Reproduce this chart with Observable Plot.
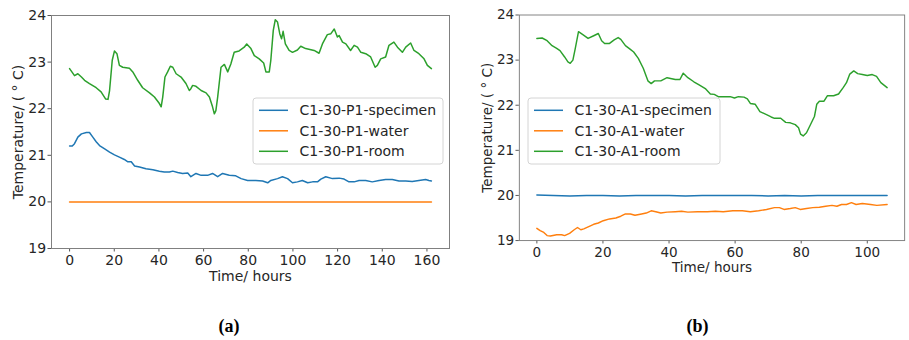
<!DOCTYPE html>
<html><head><meta charset="utf-8">
<script src="https://cdn.jsdelivr.net/npm/d3@7"></script>
<script src="https://cdn.jsdelivr.net/npm/@observablehq/plot@0.6"></script>
<style>
html,body{margin:0;padding:0;background:#fff;}
#wrap{position:relative;width:909px;height:340px;overflow:hidden;font-family:"DejaVu Sans",sans-serif;}
.panel{position:absolute;top:0;}
.tag{position:absolute;top:316.5px;width:60px;margin-left:-30px;text-align:center;line-height:18px;font-family:"Liberation Serif","Times New Roman",serif;font-weight:bold;font-size:18px;color:#000;}
</style></head><body><div id="wrap"></div>
<script>
// ---------- data ----------
const seriesKeys = ["specimen", "water", "room"];
const legendP1 = ["C1-30-P1-specimen", "C1-30-P1-water", "C1-30-P1-room"];
const legendA1 = ["C1-30-A1-specimen", "C1-30-A1-water", "C1-30-A1-room"];
const xTicksP1 = [0, 20, 40, 60, 80, 100, 120, 140, 160];
const xTicksA1 = [0, 20, 40, 60, 80, 100];
const yTicks = [19, 20, 21, 22, 23, 24];
const xLabel = "Time/ hours";
const yLabel = "Temperature/ ( ° C)";
const panelTags = ["(a)", "(b)"];

const timeP1Room = [0,2.2,3.7,5.3,6.7,8.9,11.9,14.1,16.1,17.2,17.9,19.1,20.1,21.2,22.3,23.8,26.8,28.3,30.5,32.7,35.8,38,40.2,41,41.7,42.7,43.9,45.1,46.2,47.7,49.9,52.1,53.6,54.3,55.1,56.6,58.9,61.1,62.6,64,64.8,65.5,66.3,67.8,69.3,70.8,72.2,73.7,75.9,78.2,79.3,81.2,82.7,84.9,86.9,87.9,89.4,90.1,91.2,92.1,93.1,94.1,94.9,95.6,96.6,98.3,99.8,102,103.5,105.7,109.5,111.7,113.2,115.4,117,118.5,119.9,120.7,122.2,123.7,125.8,127.4,128.9,130.4,132.6,134.8,136.8,137.8,139.3,141.5,143,145.2,146.8,149,150.5,152.7,154.2,156.4,158.7,160.2,162];
const tempP1Room = [22.86,22.71,22.75,22.68,22.61,22.54,22.45,22.36,22.21,22.2,22.39,23.04,23.24,23.18,22.93,22.89,22.87,22.79,22.61,22.45,22.34,22.25,22.11,22.04,22.25,22.68,22.79,22.91,22.89,22.75,22.68,22.54,22.39,22.43,22.5,22.48,22.39,22.34,22.25,22.04,21.89,21.96,22.25,22.89,22.95,22.79,22.96,23.21,23.24,23.32,23.39,23.29,23.14,23.07,22.98,22.79,22.79,23.04,23.68,23.91,23.86,23.61,23.5,23.66,23.39,23.25,23.21,23.26,23.34,23.29,23.25,23.19,23.39,23.59,23.61,23.71,23.54,23.57,23.43,23.39,23.25,23.36,23.32,23.21,23.18,23.11,22.89,22.93,23.07,23.11,23.36,23.43,23.32,23.21,23.32,23.41,23.25,23.18,23.07,22.93,22.86];

const timeP1Specimen = [0,1.2,2.2,3.7,5.3,7.5,8.9,10.4,11.9,13.4,15.7,17.9,20.1,22.3,24.5,26.1,27.6,29.1,31.3,34.2,37.3,40.2,42.4,44.7,46.2,48.4,50.6,52.9,54.3,56.6,58.9,61.8,64,66.3,68.5,71.5,74.4,76.8,79.7,83.4,86.4,88.7,90.1,93.1,95.3,97.6,99.8,102,104.2,106.6,108.8,111,112.5,114.7,117.7,120.7,122.9,125.1,127.4,129.6,132.6,135.5,138.6,141.5,144.5,147.5,150.5,153.4,156.4,159.4,160.9,162];
const tempP1Specimen = [21.2,21.2,21.25,21.39,21.46,21.49,21.49,21.39,21.29,21.21,21.14,21.07,21.01,20.96,20.91,20.86,20.86,20.77,20.75,20.71,20.69,20.66,20.64,20.64,20.66,20.63,20.61,20.62,20.54,20.61,20.57,20.57,20.61,20.54,20.61,20.57,20.56,20.5,20.46,20.46,20.45,20.41,20.46,20.5,20.54,20.5,20.41,20.43,20.46,20.41,20.43,20.43,20.49,20.54,20.5,20.51,20.49,20.43,20.43,20.46,20.46,20.43,20.46,20.48,20.48,20.45,20.45,20.44,20.46,20.48,20.46,20.45];

const timeP1Water = [0, 40, 80, 120, 162];
const tempP1Water = [20.0, 20.0, 20.0, 20.0, 20.0];

const timeA1Room = [0,1.6,3.1,4.6,6,7,8.4,9.4,10.1,10.9,11.6,12.6,13.8,15.5,17.2,18.6,19.6,20.5,22,23.4,24.6,25.4,26.8,28.1,29.3,30.7,32.2,33.6,34.6,35.6,37.5,39.4,41.9,43.3,44.3,45.7,47.5,49.1,51.1,52.5,53.7,54.9,56.9,58.5,59.8,61,62.7,63.7,64.6,66.1,67.5,69.5,70.9,71.9,73.8,75.3,76.7,78.2,79.2,79.8,80.6,81.6,82.6,84,84.7,85.5,86.9,87.9,89.8,91.3,92.7,93.7,94.7,95.9,97.1,98.5,100,101.5,102.8,104.1,106];
const tempA1Room = [23.48,23.49,23.43,23.32,23.26,23.21,23.07,22.96,22.93,23,23.25,23.63,23.57,23.48,23.54,23.59,23.43,23.37,23.37,23.45,23.5,23.46,23.32,23.25,23.18,23.04,22.82,22.54,22.48,22.54,22.54,22.61,22.57,22.57,22.71,22.61,22.52,22.45,22.36,22.25,22.24,22.19,22.19,22.19,22.16,22.19,22.18,22.14,22.04,22.02,21.86,21.79,21.74,21.71,21.71,21.62,21.61,21.57,21.5,21.36,21.32,21.39,21.54,21.75,22.02,22.09,22.09,22.21,22.21,22.25,22.39,22.5,22.69,22.76,22.7,22.68,22.66,22.68,22.64,22.5,22.39];

const timeA1Water = [0,1,2.1,3.1,4.1,6,7.5,8.4,9.9,11.3,12.3,13.3,14.2,15.7,17.2,18.6,20.1,22,23.9,25.4,26.8,28.3,29.7,31.7,33.1,34.6,36,37.5,39.4,41.9,43.8,45.7,48.6,51.6,54,56.4,59.3,62.2,64.6,67.1,69.5,71.9,73.4,74.8,76.7,78.2,79.7,81.6,83.5,85.5,87.4,89.3,90.8,92.2,93.7,95.2,96.6,98.5,101,102.9,106];
const tempA1Water = [19.27,19.22,19.18,19.11,19.1,19.13,19.13,19.11,19.16,19.24,19.29,19.24,19.26,19.31,19.36,19.39,19.44,19.48,19.5,19.54,19.59,19.59,19.56,19.59,19.61,19.66,19.64,19.61,19.63,19.64,19.65,19.63,19.64,19.64,19.65,19.64,19.66,19.66,19.64,19.66,19.69,19.73,19.73,19.69,19.71,19.73,19.69,19.71,19.73,19.74,19.76,19.78,19.76,19.8,19.8,19.84,19.8,19.82,19.8,19.78,19.8];

const timeA1Specimen = [0,5,10,15,20,25,30,35,40,45,50,55,60,65,70,75,80,85,90,95,100,106];
const tempA1Specimen = [20.01,20.0,19.99,20.0,20.0,19.99,20.0,20.0,20.0,19.99,20.0,20.0,20.0,20.0,19.99,20.0,19.99,20.0,20.0,20.0,20.0,20.0];

// ---------- styles ----------
const seriesColors = ["#1f77b4", "#ff7f0e", "#2ca02c"];

function toRows(pairs) {
  const rows = [];
  pairs.forEach(([key, ts, vs]) => ts.forEach((t, i) => rows.push({series: key, time: t, temp: vs[i]})));
  return rows;
}
const rowsP1 = toRows([["specimen", timeP1Specimen, tempP1Specimen], ["water", timeP1Water, tempP1Water], ["room", timeP1Room, tempP1Room]]);
const rowsA1 = toRows([["specimen", timeA1Specimen, tempA1Specimen], ["water", timeA1Water, tempA1Water], ["room", timeA1Room, tempA1Room]]);

function panel(rows, xDomain, xTicks, width, marginLeft) {
  return Plot.plot({
    width, height: 290, marginLeft, marginRight: 5, marginTop: 15, marginBottom: 42,
    style: {fontFamily: "DejaVu Sans, sans-serif", fontSize: "14px", color: "#262626", background: "transparent", overflow: "visible"},
    x: {domain: xDomain, label: null},
    y: {domain: [19, 24], label: null},
    color: {domain: seriesKeys, range: seriesColors},
    marks: [
      Plot.axisX({ticks: xTicks, tickFormat: d => String(d), tickSize: 3.5, tickPadding: 3.5, fontSize: 14, label: null, stroke: "#555", fill: "#262626"}),
      Plot.axisY({ticks: yTicks, tickFormat: d => String(d), tickSize: 3.5, tickPadding: 1.8, fontSize: 14, label: null, stroke: "#555", fill: "#262626"}),
      Plot.line(rows, {x: "time", y: "temp", z: "series", stroke: "series", strokeWidth: 1.5}),
      Plot.frame({stroke: "#808080", strokeWidth: 1}),
      Plot.text([xLabel], {frameAnchor: "bottom", dy: 28, lineAnchor: "middle", textAnchor: "middle", text: d => d, fontSize: 14, fill: "#262626"}),
      Plot.text([yLabel], {frameAnchor: "left", dx: -32.5, rotate: -90, lineAnchor: "middle", textAnchor: "middle", text: d => d, fontSize: 14, fill: "#262626"})
    ]
  });
}

const wrap = d3.select("#wrap");
const p1 = panel(rowsP1, [-8.1, 170.1], xTicksP1, 454, 51);
const a1 = panel(rowsA1, [-5.3, 111.3], xTicksA1, 470, 67);
const d1 = wrap.append("div").attr("class", "panel").style("left", "0px"); d1.node().appendChild(p1);
const d2 = wrap.append("div").attr("class", "panel").style("left", "454px"); d2.node().appendChild(a1);

function legend(x, y, w, labels) {
  const h = 66;
  const svg = wrap.append("svg").attr("width", w + 2).attr("height", h + 2)
    .style("position", "absolute").style("left", (x - 1) + "px").style("top", (y - 1) + "px");
  svg.append("rect").attr("x", 1).attr("y", 1).attr("width", w).attr("height", h).attr("rx", 3)
    .attr("fill", "rgba(255,255,255,0.8)").attr("stroke", "#d4d4d4").attr("stroke-width", 1);
  labels.forEach((lab, i) => {
    const cy = 1 + 12.3 + i * 20.5;
    svg.append("line").attr("x1", 7).attr("x2", 36).attr("y1", cy).attr("y2", cy)
      .attr("stroke", seriesColors[i]).attr("stroke-width", 1.5);
    svg.append("text").attr("x", 47.5).attr("y", cy).attr("dy", "0.35em").text(lab)
      .style("font-family", "DejaVu Sans, sans-serif").style("font-size", "14px").attr("fill", "#262626");
  });
}
legend(252.5, 98, 190, legendP1);
legend(528, 98, 192, legendA1);

wrap.append("div").attr("class", "tag").style("left", "229px").text(panelTags[0]);
wrap.append("div").attr("class", "tag").style("left", "697.5px").text(panelTags[1]);
</script></body></html>
